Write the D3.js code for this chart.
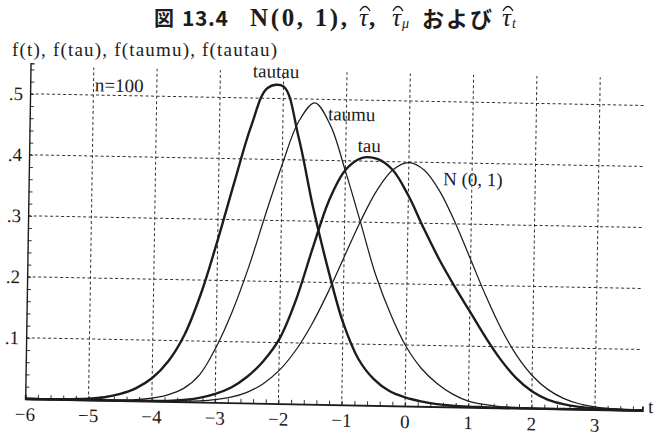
<!DOCTYPE html>
<html>
<head>
<meta charset="utf-8">
<script src="https://cdn.jsdelivr.net/npm/d3@7"></script>
<style>
  html, body { margin: 0; padding: 0; background: #ffffff; }
  svg { display: block; }
</style>
</head>
<body>
<svg id="chart" width="659" height="435"></svg>
<script>
// ---- data ----
const tValues = [-6, -5.75, -5.5, -5.25, -5, -4.75, -4.5, -4.25, -4, -3.75,
                 -3.5, -3.25, -3, -2.75, -2.5, -2.25, -2, -1.75, -1.5, -1.25,
                 -1, -0.75, -0.5, -0.25, 0, 0.25, 0.5, 0.75, 1, 1.25,
                 1.5, 1.75, 2, 2.25, 2.5, 2.75, 3, 3.25, 3.5, 3.75];

const fNormal = [0, 0, 0, 0, 0, 0, 0, 0.0001, 0.0001, 0.0004,
                 0.0009, 0.002, 0.0044, 0.0091, 0.0175, 0.0317, 0.054, 0.0863, 0.1295, 0.1826,
                 0.242, 0.3011, 0.3521, 0.3867, 0.3989, 0.3867, 0.3521, 0.3011, 0.242, 0.1826,
                 0.1295, 0.0863, 0.054, 0.0317, 0.0175, 0.0091, 0.0044, 0.002, 0.0009, 0.0004];

const fTau = [0, 0, 0, 0, 0, 0, 0, 0, 0.0005, 0.001,
              0.003, 0.007, 0.014, 0.025, 0.043, 0.069, 0.106, 0.170, 0.255, 0.335,
              0.385, 0.405, 0.404, 0.386, 0.345, 0.292, 0.242, 0.198, 0.157, 0.116,
              0.079, 0.049, 0.028, 0.015, 0.008, 0.004, 0.002, 0.001, 0.0005, 0];

const fTaumu = [0, 0, 0, 0, 0, 0.0005, 0.001, 0.002, 0.005, 0.011,
                0.022, 0.045, 0.090, 0.150, 0.224, 0.310, 0.392, 0.463, 0.494, 0.458,
                0.383, 0.300, 0.215, 0.150, 0.098, 0.062, 0.038, 0.021, 0.010, 0.005,
                0.002, 0.001, 0.0005, 0, 0, 0, 0, 0, 0, 0];

const fTautau = [0, 0, 0.0005, 0.001, 0.002, 0.005, 0.011, 0.021, 0.038, 0.066,
                 0.110, 0.178, 0.266, 0.362, 0.454, 0.517, 0.520, 0.438, 0.322, 0.222,
                 0.135, 0.076, 0.043, 0.024, 0.014, 0.008, 0.004, 0.002, 0.001, 0.0005,
                 0, 0, 0, 0, 0, 0, 0, 0, 0, 0];

const xTicks = [-6, -5, -4, -3, -2, -1, 0, 1, 2, 3];
const xTickLabels = ["\u22126", "\u22125", "\u22124", "\u22123", "\u22122", "\u22121", "0", "1", "2", "3"];
const yTicks = [0.1, 0.2, 0.3, 0.4, 0.5];
const yTickLabels = [".1", ".2", ".3", ".4", ".5"];
const seriesNames = ["N (0, 1)", "tau", "taumu", "tautau"];

// ---- layout ----
const SERIF = "'Liberation Serif', 'DejaVu Serif', serif";
const CJK = "'Noto Sans CJK JP', sans-serif";
const svg = d3.select("#chart");
const x = d3.scaleLinear().domain([-6, 3.75]).range([405 - 6 * 63.3, 405 + 3.75 * 63.3]);
const y = d3.scaleLinear().domain([0, 0.55]).range([406, 406 - 0.55 * 610]);
const ink = "#1c1c1c";

// the scanned figure is slightly skewed; reproduce with a small affine transform
const b = 0.019, c = -0.016;
const e = -c * 406, f = -b * 405;
const g = svg.append("g").attr("transform", `matrix(1,${b},${c},1,${e},${f})`);

// grid
const gridV = xTicks.filter(d => d > -6);
g.append("g").selectAll("line").data(gridV).join("line")
  .attr("x1", d => x(d)).attr("x2", d => x(d))
  .attr("y1", y(0)).attr("y2", y(0.545))
  .attr("stroke", "#333").attr("stroke-width", 1).attr("stroke-dasharray", "3,2.5");
g.append("g").selectAll("line").data(yTicks).join("line")
  .attr("x1", x(-6)).attr("x2", x(3.72))
  .attr("y1", d => y(d)).attr("y2", d => y(d))
  .attr("stroke", "#333").attr("stroke-width", 1).attr("stroke-dasharray", "3,2.5");

// axes
const xAxis = d3.axisBottom(x).tickValues(d3.range(-6, 3.7, 0.2)).tickSize(-4).tickFormat("");
const xg = g.append("g").attr("transform", `translate(0,${y(0)})`).call(xAxis);
xg.select(".domain").attr("stroke", ink).attr("stroke-width", 1.8);
xg.selectAll(".tick line").attr("stroke", ink).attr("stroke-width", 0.9);

const yAxis = d3.axisLeft(y).tickValues(d3.range(0.02, 0.545, 0.02)).tickSize(-4).tickFormat("");
const yg = g.append("g").attr("transform", `translate(${x(-6)},0)`).call(yAxis);
yg.select(".domain").attr("stroke", ink).attr("stroke-width", 1.4);
yg.selectAll(".tick line").attr("stroke", ink).attr("stroke-width", 0.9);

// tick labels
g.append("g").selectAll("text").data(xTicks).join("text")
  .attr("font-family", SERIF)
  .attr("x", d => x(d)).attr("y", y(0) + 22)
  .attr("text-anchor", "middle").attr("font-size", 19).attr("fill", ink)
  .text((d, i) => xTickLabels[i]);
g.append("g").selectAll("text").data(yTicks).join("text")
  .attr("font-family", SERIF)
  .attr("x", x(-6) - 7).attr("y", d => y(d)).attr("dy", "0.35em")
  .attr("text-anchor", "end").attr("font-size", 19).attr("fill", ink)
  .text((d, i) => yTickLabels[i]);
g.append("text").attr("font-family", SERIF)
  .attr("x", x(3.84)).attr("y", y(-0.004))
  .attr("font-size", 19).attr("fill", ink).text("t");

// curves
const line = d3.line()
  .x((d, i) => x(tValues[i]))
  .y(d => y(d))
  .curve(d3.curveCatmullRom.alpha(0.5));
const series = [
  { name: seriesNames[0], values: fNormal, w: 1.25 },
  { name: seriesNames[1], values: fTau, w: 2.4 },
  { name: seriesNames[2], values: fTaumu, w: 1.25 },
  { name: seriesNames[3], values: fTautau, w: 2.4 }
];
g.append("g").selectAll("path").data(series).join("path")
  .attr("d", d => line(d.values))
  .attr("fill", "none").attr("stroke", ink)
  .attr("stroke-width", d => d.w).attr("stroke-linejoin", "round");

// curve labels
const labels = [
  { text: seriesNames[3], t: -2.12, f: 0.534, anchor: "middle" },
  { text: seriesNames[2], t: -1.29, f: 0.466, anchor: "start" },
  { text: seriesNames[1], t: -0.63, f: 0.415, anchor: "middle" },
  { text: seriesNames[0], t: 0.545, f: 0.363, anchor: "start" },
  { text: "n=100", t: -4.98, f: 0.506, anchor: "start" }
];
g.append("g").selectAll("text").data(labels).join("text")
  .attr("font-family", SERIF)
  .attr("x", d => x(d.t)).attr("y", d => y(d.f))
  .attr("text-anchor", d => d.anchor)
  .attr("font-size", 19).attr("fill", ink)
  .text(d => d.text);

// y axis title
svg.append("text").attr("font-family", SERIF)
  .attr("x", 12).attr("y", 56)
  .attr("font-size", 19).attr("fill", ink)
  .attr("textLength", 265).attr("lengthAdjust", "spacing")
  .text("f(t), f(tau), f(taumu), f(tautau)");

// figure title
const title = svg.append("g").attr("fill", ink);
title.append("text").attr("font-family", CJK).attr("font-weight", 700)
  .attr("x", 154).attr("y", 26).attr("font-size", 20).text("図");
title.append("text").attr("font-family", CJK).attr("font-weight", 700)
  .attr("x", 182).attr("y", 26).attr("font-size", 21)
  .attr("textLength", 46).attr("lengthAdjust", "spacing").text("13.4");
title.append("text").attr("font-family", SERIF).attr("font-weight", 700)
  .attr("x", 250).attr("y", 26).attr("font-size", 25)
  .attr("textLength", 97).attr("lengthAdjust", "spacing").text("N(0, 1),");
title.append("text").attr("font-family", CJK).attr("font-weight", 700)
  .attr("x", 422).attr("y", 27).attr("font-size", 22)
  .attr("textLength", 70).attr("lengthAdjust", "spacing").text("および");

function hatTau(x0, sub, comma) {
  const t = title.append("text").attr("font-family", SERIF).attr("font-style", "italic")
    .attr("x", x0).attr("y", 26).attr("font-size", 25).text("\u03C4");
  const w = t.node().getComputedTextLength();
  title.append("path")
    .attr("d", `M${x0 + 1},11 Q${x0 + w / 2 + 1.5},2 ${x0 + w + 2},11`)
    .attr("fill", "none").attr("stroke", ink).attr("stroke-width", 1.3);
  let cx = x0 + w + 1;
  if (sub) {
    const s = title.append("text").attr("font-family", SERIF).attr("font-style", "italic")
      .attr("x", cx).attr("y", 28).attr("font-size", 14).text(sub);
    cx += s.node().getComputedTextLength();
  }
  if (comma) {
    title.append("text").attr("font-family", SERIF).attr("font-weight", 700)
      .attr("x", cx).attr("y", 26).attr("font-size", 25).text(",");
  }
}
hatTau(359, null, true);
hatTau(392, "\u03BC", false);
hatTau(502, "t", false);
</script>
</body>
</html>
